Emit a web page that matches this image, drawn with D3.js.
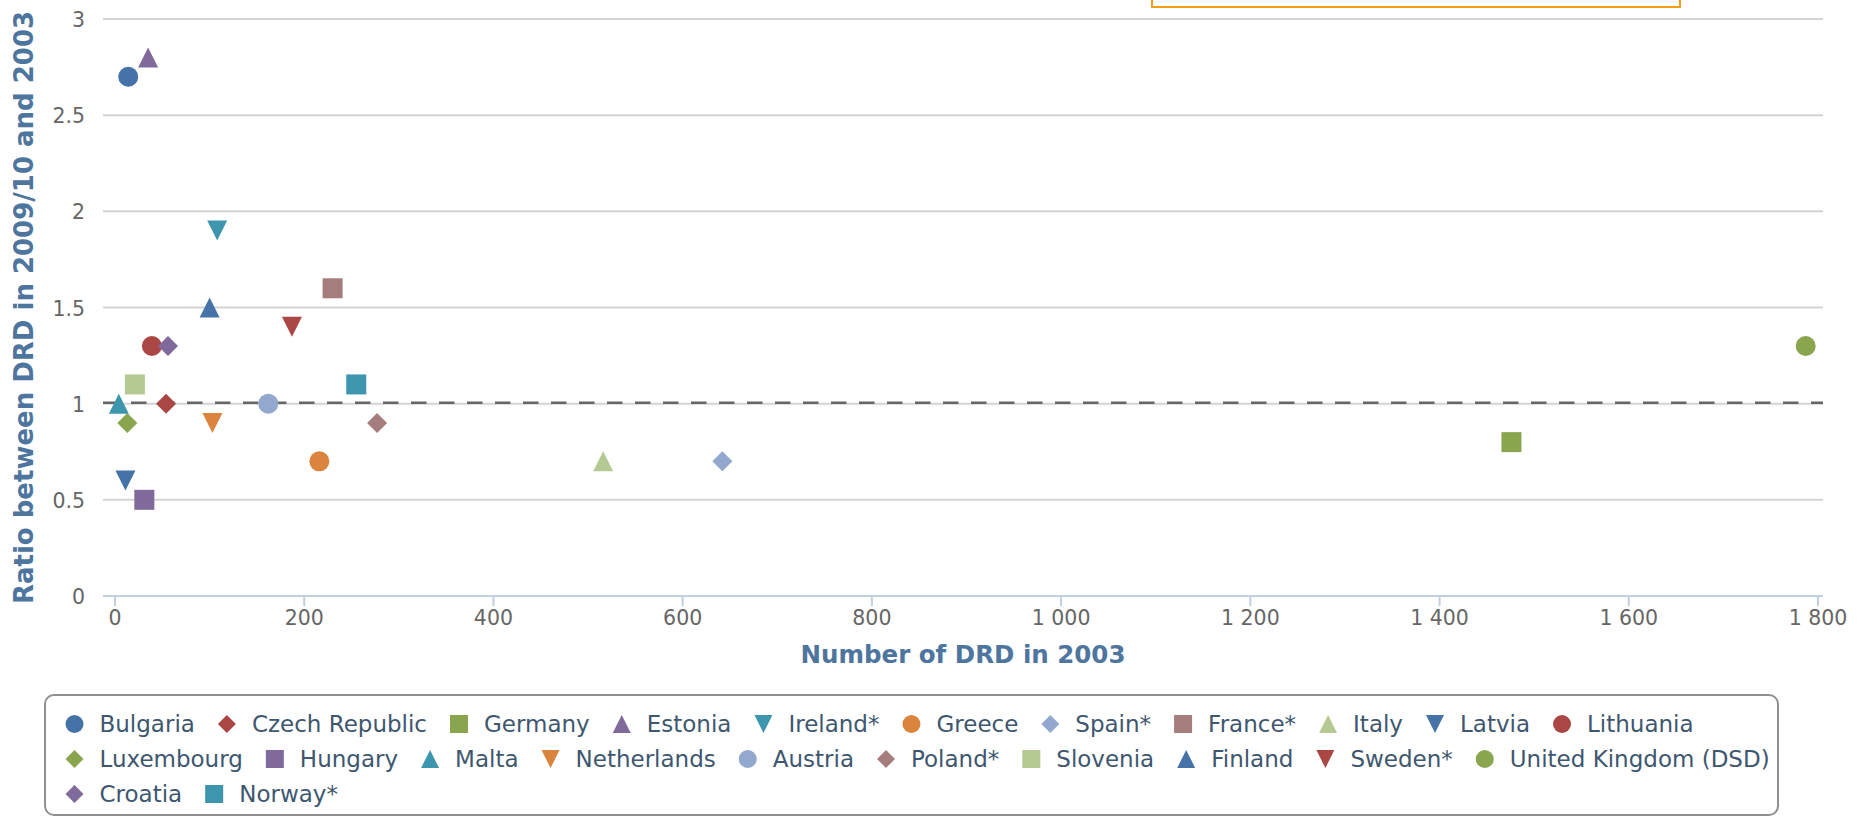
<!DOCTYPE html>
<html>
<head>
<meta charset="utf-8">
<script src="https://cdn.jsdelivr.net/npm/d3@7/dist/d3.min.js"></script>
<style>
  html, body { margin: 0; padding: 0; background: #ffffff; }
  svg { display: block; }
</style>
</head>
<body>
<svg id="chart" width="1866" height="817"></svg>
<script>
// ---- data ----
const countries = ["Bulgaria", "Czech Republic", "Germany", "Estonia", "Ireland*", "Greece", "Spain*", "France*", "Italy", "Latvia", "Lithuania",
  "Luxembourg", "Hungary", "Malta", "Netherlands", "Austria", "Poland*", "Slovenia", "Finland", "Sweden*", "United Kingdom (DSD)",
  "Croatia", "Norway*"];
const drd2003 = [14, 54, 1476, 35, 108, 216, 642, 230, 516, 11, 39, 13, 31, 4, 103, 162, 277, 21, 100, 187, 1787, 56, 255];
const ratio = [2.7, 1.0, 0.8, 2.8, 1.9, 0.7, 0.7, 1.6, 0.7, 0.6, 1.3, 0.9, 0.5, 1.0, 0.9, 1.0, 0.9, 1.1, 1.5, 1.4, 1.3, 1.3, 1.1];
const xTicks = [0, 200, 400, 600, 800, 1000, 1200, 1400, 1600, 1800];
const yTicks = [0, 0.5, 1, 1.5, 2, 2.5, 3];
const referenceRatio = 1;
const xTitle = "Number of DRD in 2003";
const yTitle = "Ratio between DRD in 2009/10 and 2003";

// ---- style ----
const palette = ["#4572A7", "#AA4643", "#89A54E", "#80699B", "#3D96AE", "#DB843D", "#92A8CD", "#A47D7C", "#B5CA92"];
const symbols = ["circle", "diamond", "square", "triangle", "triangle-down"];

const svg = d3.select("#chart");
const plot = { left: 103, right: 1823, top: 19, bottom: 596 };

const x = d3.scaleLinear().domain([0, 1800]).range([115, 1818]);
const y = d3.scaleLinear().domain([0, 3]).range([plot.bottom, plot.top]);

function symbolPath(type, r) {
  switch (type) {
    case "circle":
      return `M${-r},0A${r},${r} 0 1,0 ${r},0A${r},${r} 0 1,0 ${-r},0Z`;
    case "square":
      return `M${-r},${-r}H${r}V${r}H${-r}Z`;
    case "diamond":
      return `M0,${-r}L${r},0L0,${r}L${-r},0Z`;
    case "triangle":
      return `M0,${-r}L${r},${r}L${-r},${r}Z`;
    case "triangle-down":
      return `M${-r},${-r}L${r},${-r}L0,${r}Z`;
  }
}

// orange box at top (cropped)
svg.append("rect")
  .attr("x", 1152).attr("y", -30).attr("width", 528).attr("height", 37)
  .attr("fill", "#ffffff").attr("stroke", "#F59D16").attr("stroke-width", 2);

// grid lines
svg.append("g").selectAll("line").data(yTicks.filter(d => d !== 0)).join("line")
  .attr("x1", plot.left).attr("x2", plot.right)
  .attr("y1", d => y(d)).attr("y2", d => y(d))
  .attr("stroke", "#d4d4d4").attr("stroke-width", 2);

// y tick labels
svg.append("g").selectAll("text").data(yTicks).join("text")
  .attr("x", 85).attr("y", d => y(d) + 8)
  .attr("text-anchor", "end")
  .attr("font-family", "DejaVu Sans, sans-serif").attr("font-size", 20.5)
  .attr("fill", "#666666")
  .text(d => String(d));

// x axis
const xAxisG = svg.append("g");
xAxisG.append("line")
  .attr("x1", plot.left).attr("x2", plot.right)
  .attr("y1", plot.bottom).attr("y2", plot.bottom)
  .attr("stroke", "#C0D0E0").attr("stroke-width", 2);
xAxisG.selectAll("line.tick").data(xTicks).join("line")
  .attr("class", "tick")
  .attr("x1", d => x(d)).attr("x2", d => x(d))
  .attr("y1", plot.bottom).attr("y2", plot.bottom + 10)
  .attr("stroke", "#C0D0E0").attr("stroke-width", 2);
const fmt = d => d3.format(",")(d).replace(/,/g, " ");
xAxisG.selectAll("text").data(xTicks).join("text")
  .attr("x", d => x(d)).attr("y", 625)
  .attr("text-anchor", "middle")
  .attr("font-family", "DejaVu Sans, sans-serif").attr("font-size", 20.5)
  .attr("fill", "#666666")
  .text(d => fmt(d));

// axis titles
svg.append("text")
  .attr("x", (plot.left + plot.right) / 2).attr("y", 663)
  .attr("text-anchor", "middle")
  .attr("font-family", "DejaVu Sans, sans-serif").attr("font-weight", "bold").attr("font-size", 24.5)
  .attr("fill", "#4D759E")
  .text(xTitle);
svg.append("text")
  .attr("transform", `translate(33,${(plot.top + plot.bottom) / 2}) rotate(-90)`)
  .attr("text-anchor", "middle")
  .attr("font-family", "DejaVu Sans, sans-serif").attr("font-weight", "bold").attr("font-size", 26)
  .attr("fill", "#4D759E")
  .text(yTitle);

// reference dashed line
svg.append("line")
  .attr("x1", plot.left).attr("x2", plot.right)
  .attr("y1", y(referenceRatio) - 1).attr("y2", y(referenceRatio) - 1)
  .attr("stroke", "#666666").attr("stroke-width", 2.5)
  .attr("stroke-dasharray", "15.5,12.5");

// points
const pts = countries.map((c, i) => ({ name: c, x: drd2003[i], y: ratio[i], color: palette[i % palette.length], sym: symbols[i % symbols.length] }));
svg.append("g").selectAll("path").data(pts).join("path")
  .attr("transform", d => `translate(${x(d.x)},${y(d.y)})`)
  .attr("d", d => symbolPath(d.sym, 10))
  .attr("fill", d => d.color);

// legend
const legend = svg.append("g");
legend.append("rect")
  .attr("x", 45).attr("y", 695).attr("width", 1733).attr("height", 120)
  .attr("rx", 9).attr("ry", 9)
  .attr("fill", "#ffffff").attr("stroke", "#909090").attr("stroke-width", 2);

const legStartX = 74.5, legMaxX = 1772, rowY0 = 724, rowH = 35;
let cx = legStartX, row = 0;
pts.forEach(d => {
  const g = legend.append("g");
  const t = g.append("text")
    .attr("font-family", "DejaVu Sans, sans-serif").attr("font-size", 23)
    .attr("fill", "#3E576F")
    .text(d.name);
  const w = t.node().getComputedTextLength();
  if (cx + 25 + w > legMaxX) { row += 1; cx = legStartX; }
  const cy = rowY0 + row * rowH;
  g.append("path")
    .attr("transform", `translate(${cx},${cy})`)
    .attr("d", symbolPath(d.sym, 9))
    .attr("fill", d.color);
  t.attr("x", cx + 25).attr("y", cy + 8);
  cx = cx + 25 + w + 32;
});
</script>
</body>
</html>
